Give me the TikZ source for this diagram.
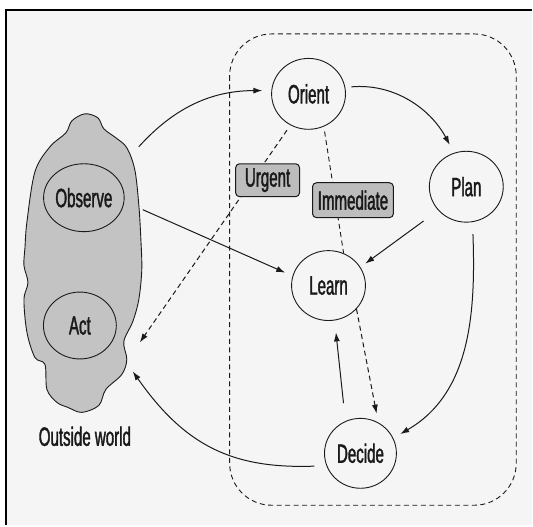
\documentclass[tikz,border=0pt]{standalone}
\usepackage{fontspec}
\setmainfont{Liberation Sans}[FakeStretch=0.57,FakeBold=1.4]
\usetikzlibrary{arrows.meta,shapes.geometric}
\definecolor{ink}{HTML}{1A1A1A}
\definecolor{paper}{HTML}{F5F5F5}
\definecolor{cloudgrey}{HTML}{C3C3C3}
\definecolor{tag}{HTML}{BDBDBD}

\begin{document}
\begin{tikzpicture}[x=1pt,y=-1pt,
  font=\fontsize{26.5}{30}\selectfont,
  stage/.style={ellipse, draw=ink, line width=0.9pt, fill=paper, inner sep=0pt,
                minimum width=74pt, minimum height=71pt, text=ink},
  inner/.style={stage, fill=cloudgrey},
  tagbox/.style={rectangle, rounded corners=4pt, draw=ink, line width=1pt,
                 fill=tag, text=ink, inner sep=0pt},
  link/.style={draw=ink, line width=1pt, -{Latex[length=9pt,width=6pt]}},
  soft/.style={link, dash pattern=on 5pt off 3.5pt},
  plain/.style={draw=ink, line width=0.9pt, dash pattern=on 5pt off 3.5pt},
]
% page and frame
\fill[white] (0,0) rectangle (533,526);
\fill[paper] (6,10) rectangle (533,526);
\draw[black, line width=1.6pt] (6,526) -- (6,10) -- (533,10);
\useasboundingbox (0,0) rectangle (533,526);

% the organisation boundary
\draw[plain, rounded corners=42pt] (230,34) rectangle (517,506);

% the outside world
\draw[fill=cloudgrey, draw=ink, line width=0.9pt]
  plot[smooth cycle, tension=0.55] coordinates {
    (85,114) (98,118) (104,129) (116,138) (127,148) (135,170) (139,205)
    (141,238) (142,270) (139,300) (133,322) (124,342) (127,360) (122,375)
    (106,390) (99,406) (82,413) (68,408) (57,403) (47,390) (45,365)
    (35,358) (27,333) (24,300) (28,283) (24,266) (25,248) (27,222)
    (35,172) (50,147) (66,133) (72,121)};

\coordinate (cloudNE) at (139,147);
\coordinate (cloudE) at (143,210);
\coordinate (actT) at (140,343);
\coordinate (actB) at (133,372);

% stages
\node[inner, minimum width=72pt, minimum height=68pt] (observe) at (84,198) {Observe};
\node[inner, minimum width=73pt, minimum height=67pt] (act) at (80,326) {Act};
\node[stage] (orient) at (309,94) {Orient};
\node[stage] (plan) at (467,187) {Plan};
\node[stage, minimum height=70pt] (learn) at (329,286) {Learn};
\node[stage, minimum width=72pt, minimum height=70pt] (decide) at (361,454) {Decide};
\node[text=ink] (world) at (85,437) {Outside world};

% solid flows
\draw[link, shorten >=9pt] (cloudNE) to[out=48,in=180] (orient.175);
\draw[link, shorten <=6pt, shorten >=9pt] (orient.10) to[out=5,in=118] (plan.110);
\draw[link, shorten <=18pt, shorten >=6pt] (plan.220) -- (learn.30);
\draw[link, shorten >=8pt] (cloudE) -- (learn.165);
\draw[link, shorten <=12pt, shorten >=8pt] (plan.-80) to[out=-88,in=30] (decide.25);
\draw[link, shorten <=18pt, shorten >=12pt] (decide.115) -- (learn.-80);
\draw[link, shorten <=12pt] (decide.200) to[out=182,in=-55,looseness=1.1] (actB);

% dashed shortcuts
\draw[soft, shorten >=9pt] (learn.-40) -- (decide.60);
\draw[plain, shorten <=5pt] (orient.-65) -- (learn.65);
\draw[soft, shorten <=6pt] (orient.-120) -- (actT);

% shortcut labels
\node[tagbox, minimum width=64pt, minimum height=33pt] (urgent) at (268,180.5) {Urgent};
\node[tagbox, minimum width=81pt, minimum height=35pt] (immediate) at (353.5,200.5) {Immediate};
\end{tikzpicture}
\end{document}
